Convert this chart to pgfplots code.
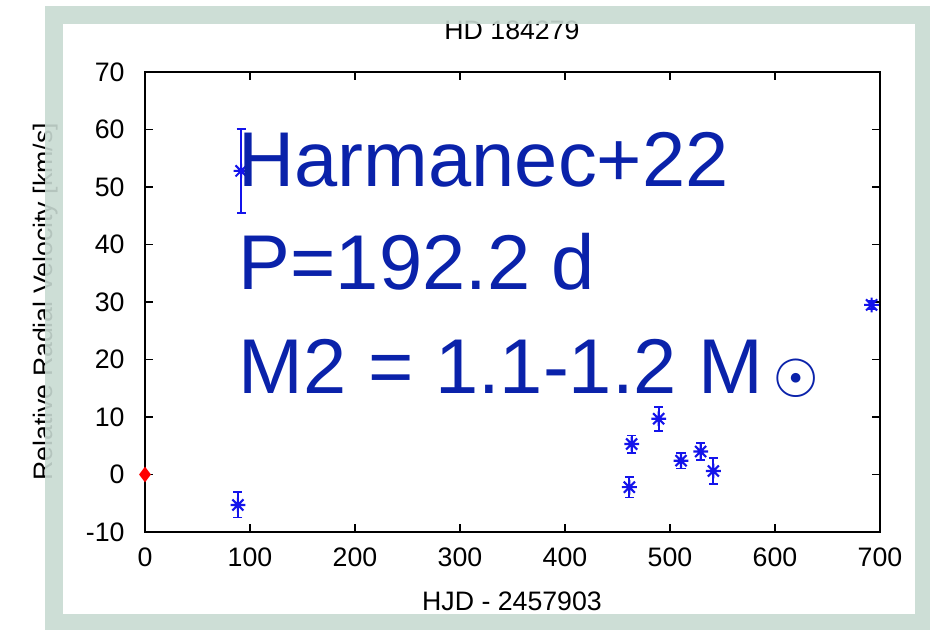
\documentclass[border=0pt]{standalone}
\usepackage{fontspec}
\setmainfont{Liberation Sans}
\newfontfamily\symfont{DejaVu Sans}
\usepackage{pgfplots}
\pgfplotsset{compat=1.18}

\definecolor{rvblue}{RGB}{20,20,235}
\definecolor{notetext}{RGB}{10,34,170}
\definecolor{framegreen}{RGB}{200,218,210}

% gnuplot-like "*" point: a plus and a cross on top of each other
\pgfdeclareplotmark{gpstar}{%
  \pgfpathmoveto{\pgfqpoint{-\pgfplotmarksize}{0pt}}%
  \pgfpathlineto{\pgfqpoint{\pgfplotmarksize}{0pt}}%
  \pgfpathmoveto{\pgfqpoint{0pt}{-\pgfplotmarksize}}%
  \pgfpathlineto{\pgfqpoint{0pt}{\pgfplotmarksize}}%
  \pgfpathmoveto{\pgfqpoint{-0.75\pgfplotmarksize}{-0.75\pgfplotmarksize}}%
  \pgfpathlineto{\pgfqpoint{0.75\pgfplotmarksize}{0.75\pgfplotmarksize}}%
  \pgfpathmoveto{\pgfqpoint{-0.75\pgfplotmarksize}{0.75\pgfplotmarksize}}%
  \pgfpathlineto{\pgfqpoint{0.75\pgfplotmarksize}{-0.75\pgfplotmarksize}}%
  \pgfusepathqstroke}

% x  y  error
\pgfplotstableread{
x      y     ey
91.5   52.8  7.3
88.5   -5.3  2.2
461.3  -2.2  1.8
463.5  5.3   1.5
489.2  9.7   2.1
510.5  2.4   1.35
529.2  4.0   1.45
541.3  0.6   2.3
692.0  29.5  0.7
}\rvdata

\begin{document}
\begin{tikzpicture}
\path[use as bounding box] (0,0) rectangle (9.3,6.3);
\begin{axis}[
  scale only axis,
  width=7.35cm, height=4.6cm,
  at={(1.45cm,0.98cm)}, anchor=south west,
  xmin=0, xmax=700, ymin=-10, ymax=70,
  xtick={0,100,...,700}, ytick={-10,0,...,70},
  tick pos=both, tick align=inside,
  major tick length=0.08cm,
  axis line style={line width=0.7pt},
  tick style={line width=0.5pt, black},
  ticklabel style={font=\fontsize{7.6}{9}\selectfont},
  /pgf/number format/assume math mode=true,
  yticklabel style={xshift=-0.08cm},
  xticklabel style={yshift=-0.03cm},
  clip=false,
]
\addplot[only marks, mark=diamond*, mark size=1.9pt, red] coordinates {(0,0)};
\addplot[only marks, mark=gpstar, mark size=2.1pt, rvblue, line width=0.6pt,
  error bars/.cd, y dir=both, y explicit,
  error bar style={line width=0.5pt, rvblue},
  error mark options={rvblue, rotate=90, mark size=1.3pt, line width=0.5pt}]
  table[x=x, y=y, y error=ey] {\rvdata};
\end{axis}

% titles
\node[anchor=base, font=\fontsize{7.6}{9}\selectfont] at (5.12,5.90) {HD 184279};
\node[anchor=base, font=\fontsize{7.6}{9}\selectfont] at (5.12,0.19) {HJD - 2457903};
\node[rotate=90, font=\fontsize{7.6}{9}\selectfont] at (0.46,3.28) {Relative Radial Velocity [km/s]};

% decorative frame
\draw[framegreen, line width=0.18cm, opacity=0.9] (0.535,6.15) rectangle (9.235,0.065);

% annotation
\begin{scope}[every node/.style={anchor=base west, inner sep=0pt, text=notetext,
    font=\fontsize{22.1}{26}\selectfont}]
\node at (2.38,4.433) {Harmanec+22};
\node at (2.38,3.40) {P=192.2 d};
\node at (2.38,2.367) {M2 = 1.1-1.2 M};
\end{scope}
\node[inner sep=0pt, text=notetext, font=\symfont\fontsize{15}{18}\selectfont] at (7.96,2.513) {☉};
\end{tikzpicture}
\end{document}
